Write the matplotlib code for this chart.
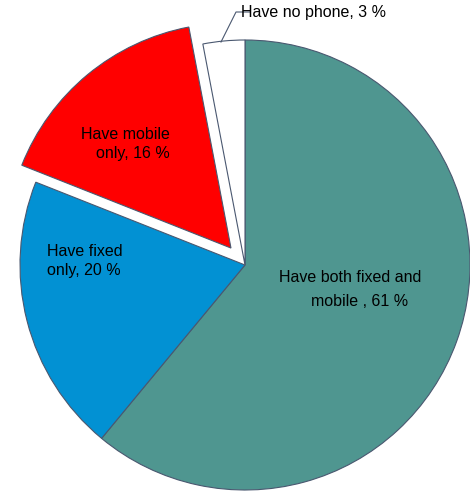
import matplotlib.pyplot as plt

labels = ['Have both fixed and\nmobile , 61 %', 'Have fixed\nonly, 20 %', 'Have mobile\nonly, 16 %', 'Have no phone, 3 %']
shares = [61, 20, 16, 3]
colors = ['#4F9690', '#0291D3', '#FF0000', '#FFFFFF']
# explode offsets are in data units here (pixels), not fractions of the radius
explode = [0, 0, 22, 0]

plt.rcParams['font.family'] = ['Liberation Sans', 'DejaVu Sans']

fig = plt.figure(figsize=(4.7, 4.96), dpi=100)
ax = fig.add_axes([0, 0, 1, 1])

# y axis is flipped (pixel coords), so counterclock=True turns clockwise on screen
wedges, _ = ax.pie(shares, colors=colors, explode=explode, startangle=-90,
                   counterclock=True, center=(245, 265), radius=225,
                   wedgeprops=dict(edgecolor='#4A5870', linewidth=0.8))
ax.set_xlim(0, 470)
ax.set_ylim(496, 0)
ax.set_aspect('equal')
ax.axis('off')

fs = 11.5
ax.text(350, 278, 'Have both fixed and', ha='center', va='center', fontsize=fs)
ax.text(360, 301, 'mobile , 61 %', ha='center', va='center', fontsize=fs)
ax.text(170, 144, 'Have mobile\nonly, 16 %', ha='right', va='center', fontsize=fs,
        multialignment='right', linespacing=1.35)
ax.text(47, 261, 'Have fixed\nonly, 20 %', ha='left', va='center', fontsize=fs,
        multialignment='left', linespacing=1.35)
ax.text(241, 13, 'Have no phone, 3 %', ha='left', va='center', fontsize=fs)
ax.plot([250, 236, 221], [12, 12, 42], color='#4A5870', linewidth=0.8)

fig.savefig('out.png', dpi=100)
